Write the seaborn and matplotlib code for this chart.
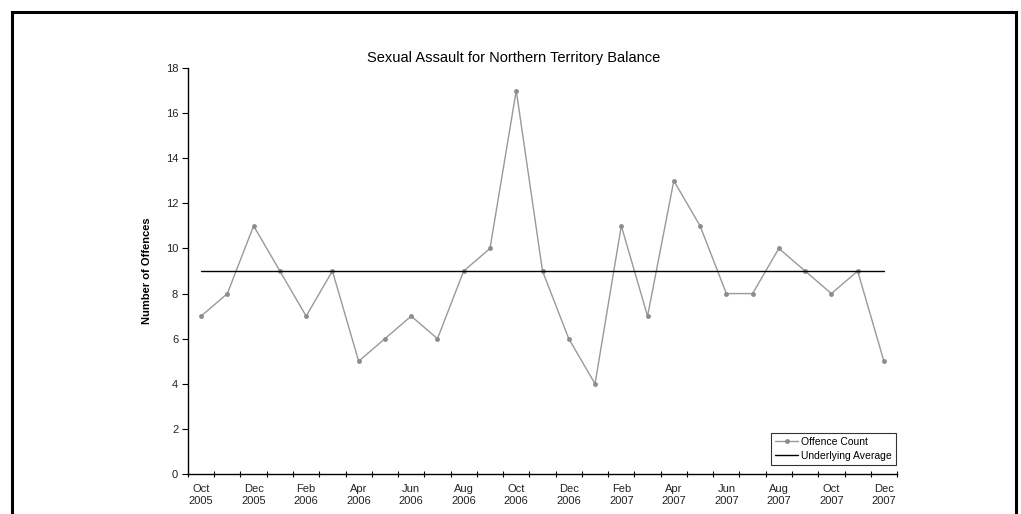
import matplotlib
matplotlib.use("Agg")
import matplotlib.pyplot as plt
import seaborn as sns
import pandas as pd
import numpy as np
from matplotlib.patches import Rectangle

# Monthly offence counts, Oct 2005 - Dec 2007
months = ["Oct 2005", "Nov 2005", "Dec 2005", "Jan 2006", "Feb 2006", "Mar 2006",
          "Apr 2006", "May 2006", "Jun 2006", "Jul 2006", "Aug 2006", "Sep 2006",
          "Oct 2006", "Nov 2006", "Dec 2006", "Jan 2007", "Feb 2007", "Mar 2007",
          "Apr 2007", "May 2007", "Jun 2007", "Jul 2007", "Aug 2007", "Sep 2007",
          "Oct 2007", "Nov 2007", "Dec 2007"]
offence_count = [7, 8, 11, 9, 7, 9, 5, 6, 7, 6, 9, 10, 17, 9, 6, 4, 11, 7, 13, 11,
                 8, 8, 10, 9, 8, 9, 5]
underlying_average = [9] * len(months)

sns.set_theme(style="white")
plt.rcParams["font.family"] = ["Liberation Sans", "DejaVu Sans"]
plt.rcParams["text.color"] = "black"
plt.rcParams["axes.labelcolor"] = "black"

df = pd.DataFrame({
    "idx": np.arange(len(months)),
    "month": months,
    "Offence Count": offence_count,
    "Underlying Average": underlying_average,
})

fig = plt.figure(figsize=(10.21, 5.14), dpi=100)
ax = fig.add_axes([0.1841, 0.0778, 0.6945, 0.7899])

sns.lineplot(data=df, x="idx", y="Offence Count", ax=ax, color="#999999",
             linewidth=1.0, marker="o", markersize=3.5, markeredgewidth=0,
             markerfacecolor="#8c8c8c", label="Offence Count")
sns.lineplot(data=df, x="idx", y="Underlying Average", ax=ax, color="black",
             linewidth=1.0, label="Underlying Average")

ax.set_xlim(-0.5, len(months) - 0.5)
ax.set_ylim(0, 18)
ax.set_yticks(range(0, 19, 2))
ax.tick_params(axis="y", labelsize=8, length=4, width=0.8, direction="out",
               colors="black", labelcolor="#222222", pad=3, left=True)

# category labels every other month, tick marks on category boundaries
major = df["idx"][::2]
ax.set_xticks(major)
ax.set_xticklabels([m.replace(" ", "\n") for m in df["month"][::2]],
                   fontsize=8, linespacing=1.25, color="#222222")
ax.set_xticks(np.arange(-0.5, len(months), 1.0), minor=True)
ax.tick_params(axis="x", which="major", length=0, pad=7)
ax.tick_params(axis="x", which="minor", length=4, width=0.8, direction="inout",
               bottom=True, color="black")

for side in ["top", "right"]:
    ax.spines[side].set_visible(False)
for side in ["left", "bottom"]:
    ax.spines[side].set_color("black")
    ax.spines[side].set_linewidth(1.0)

ax.set_xlabel("")
ax.set_ylabel("Number of Offences", fontsize=8, fontweight="bold", labelpad=10)

fig.text(0.503, 0.888, "Sexual Assault for Northern Territory Balance",
         ha="center", va="center", fontsize=10.5, color="black")

leg = ax.legend(loc="lower right", bbox_to_anchor=(0.999, 0.022), fontsize=7.5,
                frameon=True, fancybox=False, borderpad=0.4, handlelength=2.2,
                labelspacing=0.4, handletextpad=0.3, borderaxespad=0)
leg.get_frame().set_edgecolor("black")
leg.get_frame().set_linewidth(0.8)

# outer chart frame
fig.patches.append(Rectangle((11.5 / 1021, -0.05), (1016 - 11.5) / 1021, (514 - 11.5) / 514 + 0.05,
                             transform=fig.transFigure, fill=False,
                             edgecolor="black", linewidth=2.2))

fig.savefig("out.png", dpi=100)
